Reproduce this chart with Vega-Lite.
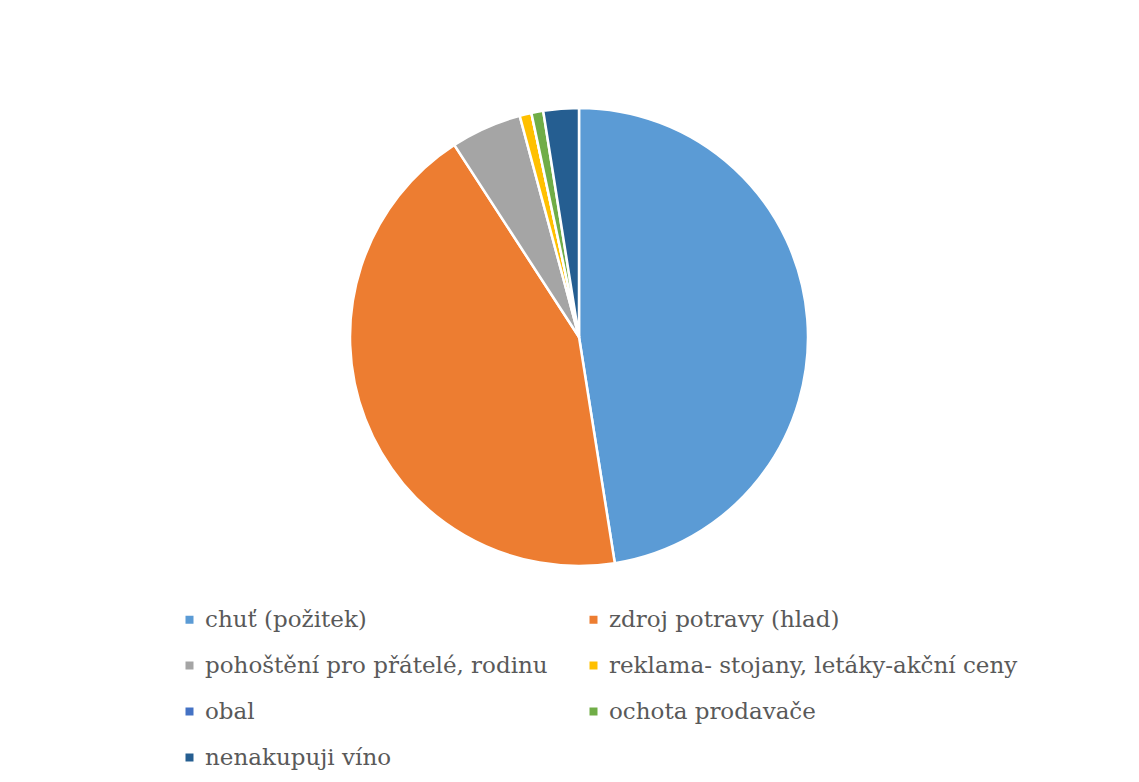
{
  "$schema": "https://vega.github.io/schema/vega-lite/v6.json",
  "autosize": {"type": "none"},
  "padding": {"left": 350, "top": 108, "right": 331, "bottom": 216},
  "width": 458,
  "height": 458,
  "background": "white",
  "config": {"view": {"stroke": null}, "legend": {"labelFont": "DejaVu Serif"}},
  "data": {
    "values": [
      {"i": 1, "duvod": "chuť (požitek)", "pocet": 57},
      {"i": 2, "duvod": "zdroj potravy (hlad)", "pocet": 52},
      {"i": 3, "duvod": "pohoštění pro přátelé, rodinu", "pocet": 6},
      {"i": 4, "duvod": "reklama- stojany, letáky-akční ceny", "pocet": 1},
      {"i": 5, "duvod": "obal", "pocet": 0},
      {"i": 6, "duvod": "ochota prodavače", "pocet": 1},
      {"i": 7, "duvod": "nenakupuji víno", "pocet": 3}
    ]
  },
  "mark": {"type": "arc", "stroke": "white", "strokeWidth": 2.5},
  "encoding": {
    "theta": {"field": "pocet", "type": "quantitative", "stack": true},
    "order": {"field": "i", "type": "quantitative"},
    "color": {
      "field": "duvod",
      "type": "nominal",
      "scale": {
        "domain": ["chuť (požitek)", "pohoštění pro přátelé, rodinu", "obal", "nenakupuji víno", "zdroj potravy (hlad)", "reklama- stojany, letáky-akční ceny", "ochota prodavače"],
        "range": ["#5B9BD5", "#A5A5A5", "#4472C4", "#255E91", "#ED7D31", "#FFC000", "#70AD47"]
      },
      "legend": {
        "title": null,
        "orient": "none",
        "legendX": -172,
        "legendY": 500,
        "columns": 2,
        "columnPadding": 34,
        "rowPadding": 22,
        "padding": 0,
        "symbolType": "square",
        "symbolSize": 64,
        "symbolStrokeWidth": 0,
        "labelFontSize": 23,
        "labelColor": "#595959",
        "labelOffset": 4,
        "labelLimit": 600
      }
    }
  }
}
